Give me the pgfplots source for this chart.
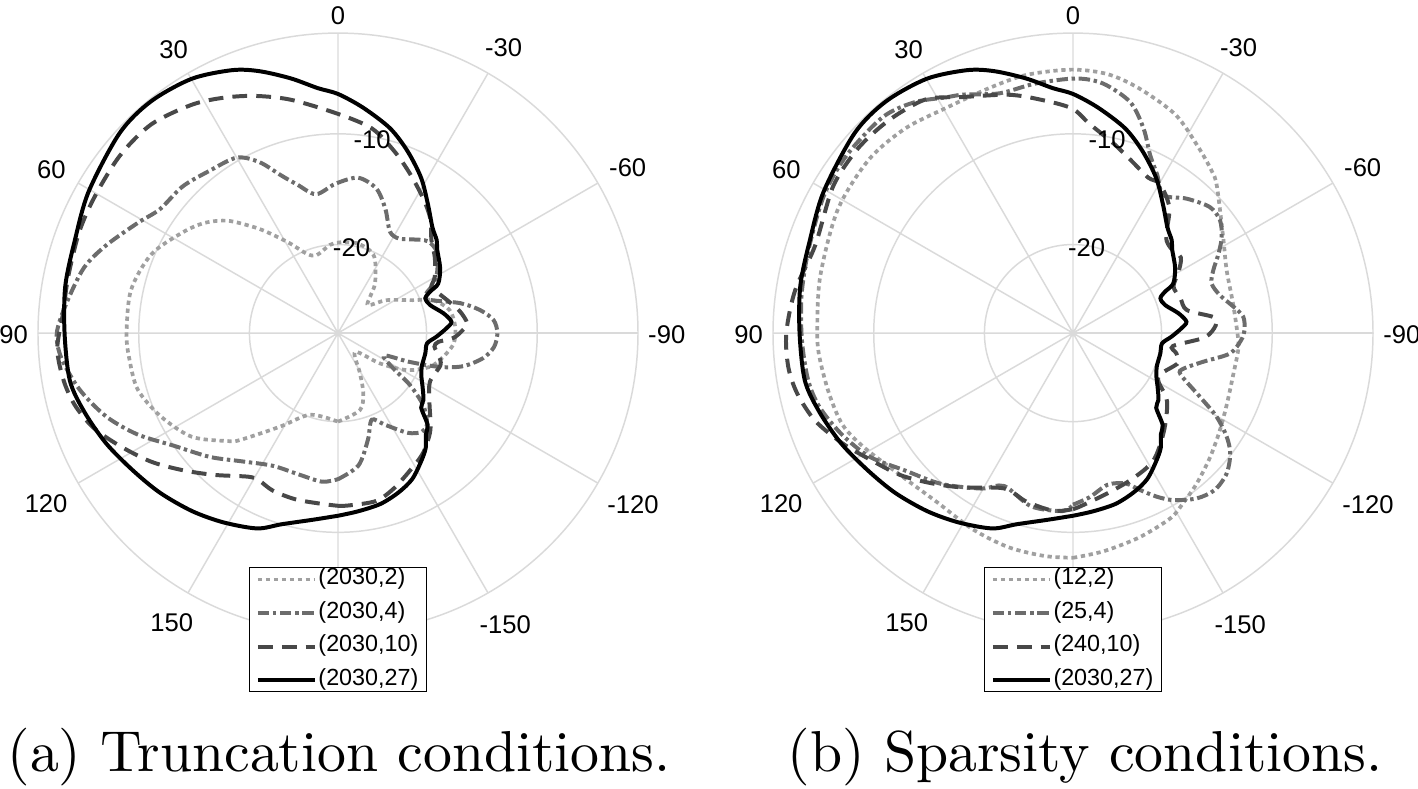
\documentclass[border=0pt]{standalone}
\usepackage{fontspec}
\usepackage{pgfplots}
\usepackage{pgfplotstable}
\pgfplotsset{compat=1.18}
\usepgfplotslibrary{polar}
\newfontfamily\arialfont{Liberation Sans}
\newcommand\tickfont{\fontsize{4.5}{5.4}\selectfont\arialfont}
\newcommand\legfont{\fontsize{4.1}{4.9}\selectfont\arialfont}
\definecolor{gridgray}{RGB}{218,218,218}
\definecolor{cdot}{RGB}{160,160,160}
\definecolor{cdashdot}{RGB}{108,108,108}
\definecolor{cdash}{RGB}{72,72,72}

% (angle in degrees, 0 at top, counter-clockwise; level in dB)
\pgfplotstableread{
t db
-180 -11.5
-173.5 -11.8
-166 -12.1
-159.2 -12.6
-153.1 -13.2
-147 -14.2
-142.6 -14.95
-139 -15.9
-135.7 -16.4
-131.9 -17.9
-128 -18.2
-122 -19.0
-117.6 -19.5
-111.9 -19.85
-103.2 -19.9
-96.6 -19.9
-92.1 -19.1
-87.5 -18.2
-84.3 -17.7
-79.4 -18.3
-73.1 -19.3
-68.3 -19.5
-65.8 -18.9
-63.7 -17.9
-57.4 -17.05
-50 -16.3
-46.7 -15.75
-41.8 -15.2
-35.1 -13.85
-28.2 -12.1
-20.9 -10.4
-14.2 -8.9
-6.3 -7.5
0 -6.4
4.7 -5.8
10.5 -4.6
16.7 -3.3
21.9 -2.4
29.9 -1.5
38.9 -1.1
47.5 -1.25
60.4 -2.1
70.7 -2.8
80.2 -3.0
90 -3.3
100 -3.4
107.2 -4.0
115.4 -4.8
123.8 -5.7
131.9 -6.4
140.6 -7.2
148.7 -8.0
157.5 -8.9
163.6 -10.0
172.5 -11.0
180 -11.5
}\solidtab

\pgfplotstableread{
t db
-180 -20.0
-164.1 -20.76
-157.2 -22.1
-151.4 -23.85
-137.7 -25.7
-125.8 -23.3
-118.3 -20.95
-110.1 -19.15
-102.7 -18.25
-95.1 -17.5
-86.9 -17.4
-78.4 -17.7
-70.9 -18.9
-66.3 -20.6
-55.9 -22.7
-47.3 -24.3
-41.4 -23.6
-36.7 -22.4
-26.9 -20.6
-21.1 -20.0
-11.8 -19.7
-1.3 -19.8
5.2 -20.0
15.3 -20.7
21.5 -20.3
28.2 -18.8
34.3 -17.1
38.2 -15.85
44.4 -13.8
50.3 -12.4
56.9 -11.3
67.1 -9.7
78.3 -8.9
90 -8.9
96.7 -9.0
105.7 -9.2
115.1 -10.3
125.3 -11.8
134.4 -14.06
137.5 -14.9
148.2 -18.05
161.1 -20.2
180 -20.0
}\aDtwo

\pgfplotstableread{
t db
-180 -14.8
-171.2 -15.9
-164.3 -18.0
-158.7 -19.6
-152.9 -18.7
-145 -17.0
-139.7 -16.3
-135.6 -16.5
-130.3 -17.9
-125.8 -20.0
-122.5 -22.1
-116 -23.4
-111.9 -21.0
-108.4 -18.3
-104.8 -16.3
-99.8 -14.7
-95.1 -13.85
-90 -13.6
-85.2 -13.9
-80.8 -15.0
-76.2 -16.65
-68.5 -19.5
-63 -18.4
-58.5 -17.5
-50.7 -16.45
-44.3 -16.4
-38.4 -17.2
-32.7 -17.85
-27.1 -17.7
-20.9 -16.0
-14.9 -14.5
-7.4 -13.85
0.9 -14.5
9 -15.3
15.3 -14.1
19.7 -12.9
24.7 -11.0
30.0 -9.7
38.4 -9.3
46.7 -8.7
55.2 -8.4
61.2 -7.35
69.3 -5.6
75.6 -4.3
83.9 -3.3
90 -2.6
95.1 -2.9
102.3 -4.1
109.8 -5.75
116.8 -7.7
124.4 -10.0
134 -11.9
143 -13.5
153.8 -14.64
164.9 -14.74
173.9 -14.5
180 -14.8
}\aDfour

\pgfplotstableread{
t db
-180 -12.4
-176.3 -12.4
-167.2 -12.45
-160.1 -13.1
-151.2 -14.1
-144.4 -14.75
-136.4 -15.9
-127.4 -17.6
-118 -18.6
-107.4 -18.3
-102.4 -18.7
-98 -19.2
-95 -18.9
-92.5 -17.6
-89 -16.8
-85.7 -16.3
-80 -16.8
-74 -17.6
-67.7 -18.3
-63.7 -18.6
-59.9 -17.9
-52 -16.9
-45.2 -16.1
-38.8 -14.7
-32.3 -13.6
-24.3 -12.2
-17.2 -10.8
-9.4 -9.26
0 -8.2
11.4 -6.5
19.3 -5.3
26 -4.35
32.7 -3.5
41.8 -2.7
50.8 -2.6
60.5 -2.8
68.6 -2.9
78.2 -3.1
85.8 -3.1
93.2 -2.6
99.8 -2.85
105.3 -3.35
111.1 -4.3
117.3 -5.8
124.5 -7.5
131.5 -9.3
138.9 -11.0
148 -12.7
151.8 -12.9
157.5 -12.6
165.6 -12.5
174.7 -12.5
180 -12.4
}\aDten

\pgfplotstableread{
t db
-180 -7.7
-172 -8.1
-162 -8.6
-152.2 -9.1
-147.1 -9.7
-140.6 -10.4
-132.1 -11.3
-123.4 -12.1
-114.6 -12.7
-104.1 -13.05
-95.9 -13.0
-91.3 -13.1
-79.5 -13.3
-67.7 -13.0
-57.4 -11.9
-44.3 -9.4
-40.4 -8.7
-33.7 -7.7
-25.1 -6.2
-15.1 -5.1
-7.6 -4.4
0.3 -4.2
10.2 -4.3
18.6 -4.6
29.5 -4.65
39.3 -4.1
49.6 -3.8
62.3 -4.0
77.5 -4.6
90 -4.9
95.6 -5.0
104 -5.3
111.8 -5.6
118.8 -6.5
129.4 -7.8
141.1 -8.4
152.9 -8.1
163.2 -7.8
172.7 -7.7
180 -7.7
}\bDtwo

\pgfplotstableread{
t db
-180 -12.5
-174.2 -13.1
-167.1 -13.95
-160.7 -13.6
-156.9 -12.6
-152.9 -11.4
-149 -10.4
-143.2 -9.35
-137.9 -8.9
-132.4 -9.2
-127.5 -10.1
-124 -11.25
-120.2 -13.0
-116.6 -15.2
-111 -17.6
-107.8 -17.5
-102.4 -15.95
-97.4 -13.7
-92.4 -12.8
-89 -12.5
-84.5 -12.55
-80.7 -13.3
-75.5 -14.3
-70.3 -14.7
-65.8 -14.1
-61.3 -13.0
-57.1 -12.0
-52.4 -11.25
-47.3 -11.2
-40.2 -12.1
-33.2 -13.1
-28 -11.8
-23.5 -10.5
-19.0 -8.44
-13.9 -6.5
-6.9 -5.3
-0.7 -5.0
8.5 -5.2
17 -5.35
24.6 -4.3
28.4 -3.8
34.5 -2.7
41.4 -2.0
51.9 -2.0
61.1 -2.3
72.5 -2.95
82 -3.24
91.4 -3.5
100.1 -3.7
106.3 -4.15
113.7 -5.2
121.3 -6.5
129.3 -8.4
138.8 -9.9
149.5 -11.7
155.8 -12.85
166.4 -11.9
176.7 -11.9
180 -12.5
}\bDfour

\pgfplotstableread{
t db
-180 -12.1
-177.5 -12.34
-167.8 -13.2
-157.5 -13.8
-147.7 -14.4
-137.3 -15.9
-126 -17.5
-119.7 -19.1
-115.4 -19.3
-108 -18.4
-105.2 -18.1
-101 -18.5
-97.4 -18.9
-91.9 -16.1
-87 -15.1
-83.6 -15.2
-78.6 -17.5
-72 -17.8
-65.2 -18.0
-60 -17.0
-54.9 -16.1
-49 -16.3
-44 -15.9
-37.5 -13.7
-30.2 -12.4
-25.8 -12.4
-18.3 -11.5
-11.6 -10.4
-4.5 -9.04
0.3 -7.7
8 -6.7
15.1 -5.7
24.8 -4.5
31.8 -3.1
38 -2.7
43.6 -2.5
50 -2.4
58.6 -2.6
71.2 -3.4
81.3 -2.6
90 -2.1
96.8 -2.1
102.4 -2.5
108.8 -3.4
115.5 -4.9
121.7 -6.35
129.4 -7.8
136.9 -9.4
144.7 -10.9
156.1 -12.65
164.6 -12.2
173.8 -11.85
180 -12.1
}\bDten

\pgfplotsset{
  mypolar/.style={
    scale only axis, width=105.45pt, height=105.45pt,
    anchor=center,
    xmin=0, xmax=360, ymin=0, ymax=27.1,
    xtick={0,30,...,330},
    xticklabels={-90,-60,-30,0,30,60,90,120,150,{},-150,-120},
    ytick={8,18}, yticklabels={,,},
    grid=major,
    major grid style={draw=gridgray, line width=0.26pt},
    axis line style={draw=gridgray, line width=0.26pt},
    tick style={draw=none},
    xticklabel style={font=\tickfont, inner sep=1.6pt, yshift=-0.3pt},
    clip=false,
    legend style={at={(0.5,0.11)}, anchor=north, font=\legfont,
      draw=black, line width=0.23pt, fill=white,
      inner xsep=1.1pt, inner ysep=0pt, row sep=1.8pt,
      nodes={inner sep=0.3pt, text height=2.7pt, text depth=0.8pt}},
    legend cell align=left,
    legend image code/.code={\draw[##1] (0pt,0pt) -- (10pt,0pt);},
  },
  pdot/.style={color=cdot, line width=0.65pt, dash pattern=on 0.75pt off 0.65pt, smooth, tension=0.5},
  pdashdot/.style={color=cdashdot, line width=0.7pt, dash pattern=on 2pt off 0.65pt on 0.6pt off 0.65pt, smooth, tension=0.5},
  pdash/.style={color=cdash, line width=0.7pt, dash pattern=on 2.6pt off 1.6pt, smooth, tension=0.5},
  psolid/.style={color=black, line width=0.7pt, solid, smooth, tension=0.5},
}

\begin{document}
\begin{tikzpicture}
\useasboundingbox (0,0) rectangle (249.2pt,138.5pt);

\begin{polaraxis}[mypolar, at={(59.4pt,79.96pt)}]
\addplot[pdot] table[x expr=\thisrow{t}+90, y expr=\thisrow{db}+28] {\aDtwo};
\addlegendentry{(2030,2)}
\addplot[pdashdot] table[x expr=\thisrow{t}+90, y expr=\thisrow{db}+28] {\aDfour};
\addlegendentry{(2030,4)}
\addplot[pdash] table[x expr=\thisrow{t}+90, y expr=\thisrow{db}+28] {\aDten};
\addlegendentry{(2030,10)}
\addplot[psolid] table[x expr=\thisrow{t}+90, y expr=\thisrow{db}+28] {\solidtab};
\addlegendentry{(2030,27)}
\node[font=\tickfont, inner sep=0pt] at (axis cs:81,7.8) {-20};
\node[font=\tickfont, inner sep=0pt] at (axis cs:80,17.7) {-10};
\end{polaraxis}

\begin{polaraxis}[mypolar, at={(188.57pt,79.96pt)}]
\addplot[pdot] table[x expr=\thisrow{t}+90, y expr=\thisrow{db}+28] {\bDtwo};
\addlegendentry{(12,2)}
\addplot[pdashdot] table[x expr=\thisrow{t}+90, y expr=\thisrow{db}+28] {\bDfour};
\addlegendentry{(25,4)}
\addplot[pdash] table[x expr=\thisrow{t}+90, y expr=\thisrow{db}+28] {\bDten};
\addlegendentry{(240,10)}
\addplot[psolid] table[x expr=\thisrow{t}+90, y expr=\thisrow{db}+28] {\solidtab};
\addlegendentry{(2030,27)}
\node[font=\tickfont, inner sep=0pt] at (axis cs:81,7.8) {-20};
\node[font=\tickfont, inner sep=0pt] at (axis cs:80,17.7) {-10};
\end{polaraxis}

\node[anchor=base, font=\fontsize{10.15}{12}\selectfont, inner sep=0pt] at (59.6pt,3.0pt) {(a) Truncation conditions.};
\node[anchor=base, font=\fontsize{10.15}{12}\selectfont, inner sep=0pt] at (190.7pt,3.0pt) {(b) Sparsity conditions.};
\end{tikzpicture}
\end{document}
